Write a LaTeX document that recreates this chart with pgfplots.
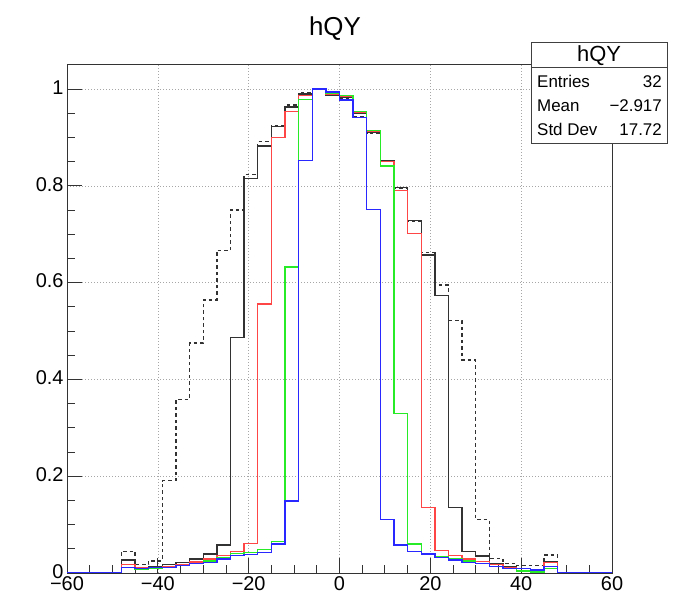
\documentclass[border=0pt]{standalone}
\usepackage{fontspec}
\setmainfont{Liberation Sans}
\usepackage{pgfplots}
\pgfplotsset{compat=1.18}
\usepackage{pgfplotstable}

\definecolor{hblack}{RGB}{50,50,50}
\definecolor{hred}{RGB}{255,70,70}
\definecolor{hgreen}{RGB}{40,235,40}
\definecolor{hblue}{RGB}{40,40,255}

\pgfplotstableread{
x dash blk red grn blu
-60 0 0 0 0 0
-48 0.045 0.027 0.018 0.012 0.011
-45 0.017 0.010 0.011 0.008 0.009
-42 0.025 0.013 0.012 0.010 0.011
-39 0.191 0.017 0.014 0.012 0.012
-36 0.359 0.022 0.018 0.015 0.015
-33 0.475 0.029 0.023 0.019 0.019
-30 0.564 0.039 0.029 0.025 0.022
-27 0.667 0.058 0.036 0.032 0.029
-24 0.750 0.487 0.044 0.040 0.036
-21 0.824 0.815 0.061 0.043 0.038
-18 0.891 0.882 0.556 0.049 0.042
-15 0.925 0.922 0.900 0.065 0.060
-12 0.967 0.963 0.953 0.632 0.149
-9 0.992 0.990 0.986 0.979 0.853
-6 1.000 1.000 1.000 1.000 1.000
-3 0.986 0.986 0.989 0.991 0.994
0 0.980 0.982 0.984 0.986 0.977
3 0.943 0.950 0.951 0.953 0.941
6 0.909 0.911 0.913 0.914 0.751
9 0.851 0.853 0.850 0.841 0.110
12 0.795 0.797 0.790 0.329 0.058
15 0.727 0.729 0.702 0.060 0.045
18 0.662 0.657 0.136 0.041 0.039
21 0.595 0.574 0.046 0.034 0.032
24 0.521 0.136 0.036 0.029 0.027
27 0.440 0.044 0.029 0.025 0.022
30 0.110 0.035 0.024 0.019 0.019
33 0.030 0.020 0.018 0.013 0.013
36 0.020 0.013 0.012 0.009 0.010
39 0.015 0.009 0.009 0.004 0.009
42 0.015 0.006 0.006 0.002 0.006
45 0.037 0.023 0.022 0.010 0.013
48 0 0 0 0 0
60 0 0 0 0 0
}\hdata

\begin{document}
\begin{tikzpicture}
\path[use as bounding box] (0,0) rectangle (674bp,599bp);
\begin{axis}[
  at={(67bp,26bp)}, anchor=south west,
  width=545bp, height=509bp, scale only axis,
  xmin=-60, xmax=60, ymin=0, ymax=1.0517,
  xtick={-60,-40,-20,0,20,40,60},
  xticklabels={−60,−40,−20,0,20,40,60},
  ytick={0,0.2,0.4,0.6,0.8,1},
  yticklabels={0,0.2,0.4,0.6,0.8,1},
  minor x tick num=3, minor y tick num=3,
  tick pos=left, tick align=inside,
  major tick length=15bp, minor tick length=8bp,
  grid=major,
  major grid style={gray!70, line width=0.6bp, dash pattern=on 1bp off 2bp},
  axis line style={black!80, line width=0.9bp},
  every tick/.style={black!80, line width=0.9bp},
  ticklabel style={font=\fontsize{20}{20}\selectfont},
  yticklabel style={yshift=1.5bp},
  clip=true,
]
\addplot[const plot mark left, no marks, hblack, line width=1.3bp, dash pattern=on 3.5bp off 3bp] table[x=x, y=dash] {\hdata};
\addplot[const plot mark left, no marks, hblack, line width=1.3bp] table[x=x, y=blk] {\hdata};
\addplot[const plot mark left, no marks, hred, line width=1.3bp] table[x=x, y=red] {\hdata};
\addplot[const plot mark left, no marks, hgreen, line width=1.3bp] table[x=x, y=grn] {\hdata};
\addplot[const plot mark left, no marks, hblue, line width=1.3bp] table[x=x, y=blu] {\hdata};
\end{axis}
% title
\node[anchor=base, inner sep=0] at (335bp,563bp) {\fontsize{26}{26}\selectfont hQY};
% stats box
\fill[white] (531bp,456bp) rectangle (667bp,557bp);
\draw[black!75, line width=0.9bp] (531bp,456bp) rectangle (667bp,557bp);
\draw[black!75, line width=1.8bp] (532bp,455.5bp) -- (667.5bp,455.5bp) -- (667.5bp,557bp);
\draw[black!75, line width=0.9bp] (531bp,532bp) -- (667bp,532bp);
\node[anchor=base, inner sep=0] at (599bp,537bp) {\fontsize{22}{22}\selectfont hQY};
\begin{scope}[every node/.style={inner sep=0, font=\fontsize{17}{17}\selectfont}]
\node[anchor=base west] at (537bp,511bp) {Entries};
\node[anchor=base west] at (537bp,487bp) {Mean};
\node[anchor=base west] at (537bp,463bp) {Std Dev};
\node[anchor=base east] at (662bp,511bp) {32};
\node[anchor=base east] at (662bp,487bp) {−2.917};
\node[anchor=base east] at (662bp,463bp) {17.72};
\end{scope}
\end{tikzpicture}
\end{document}
